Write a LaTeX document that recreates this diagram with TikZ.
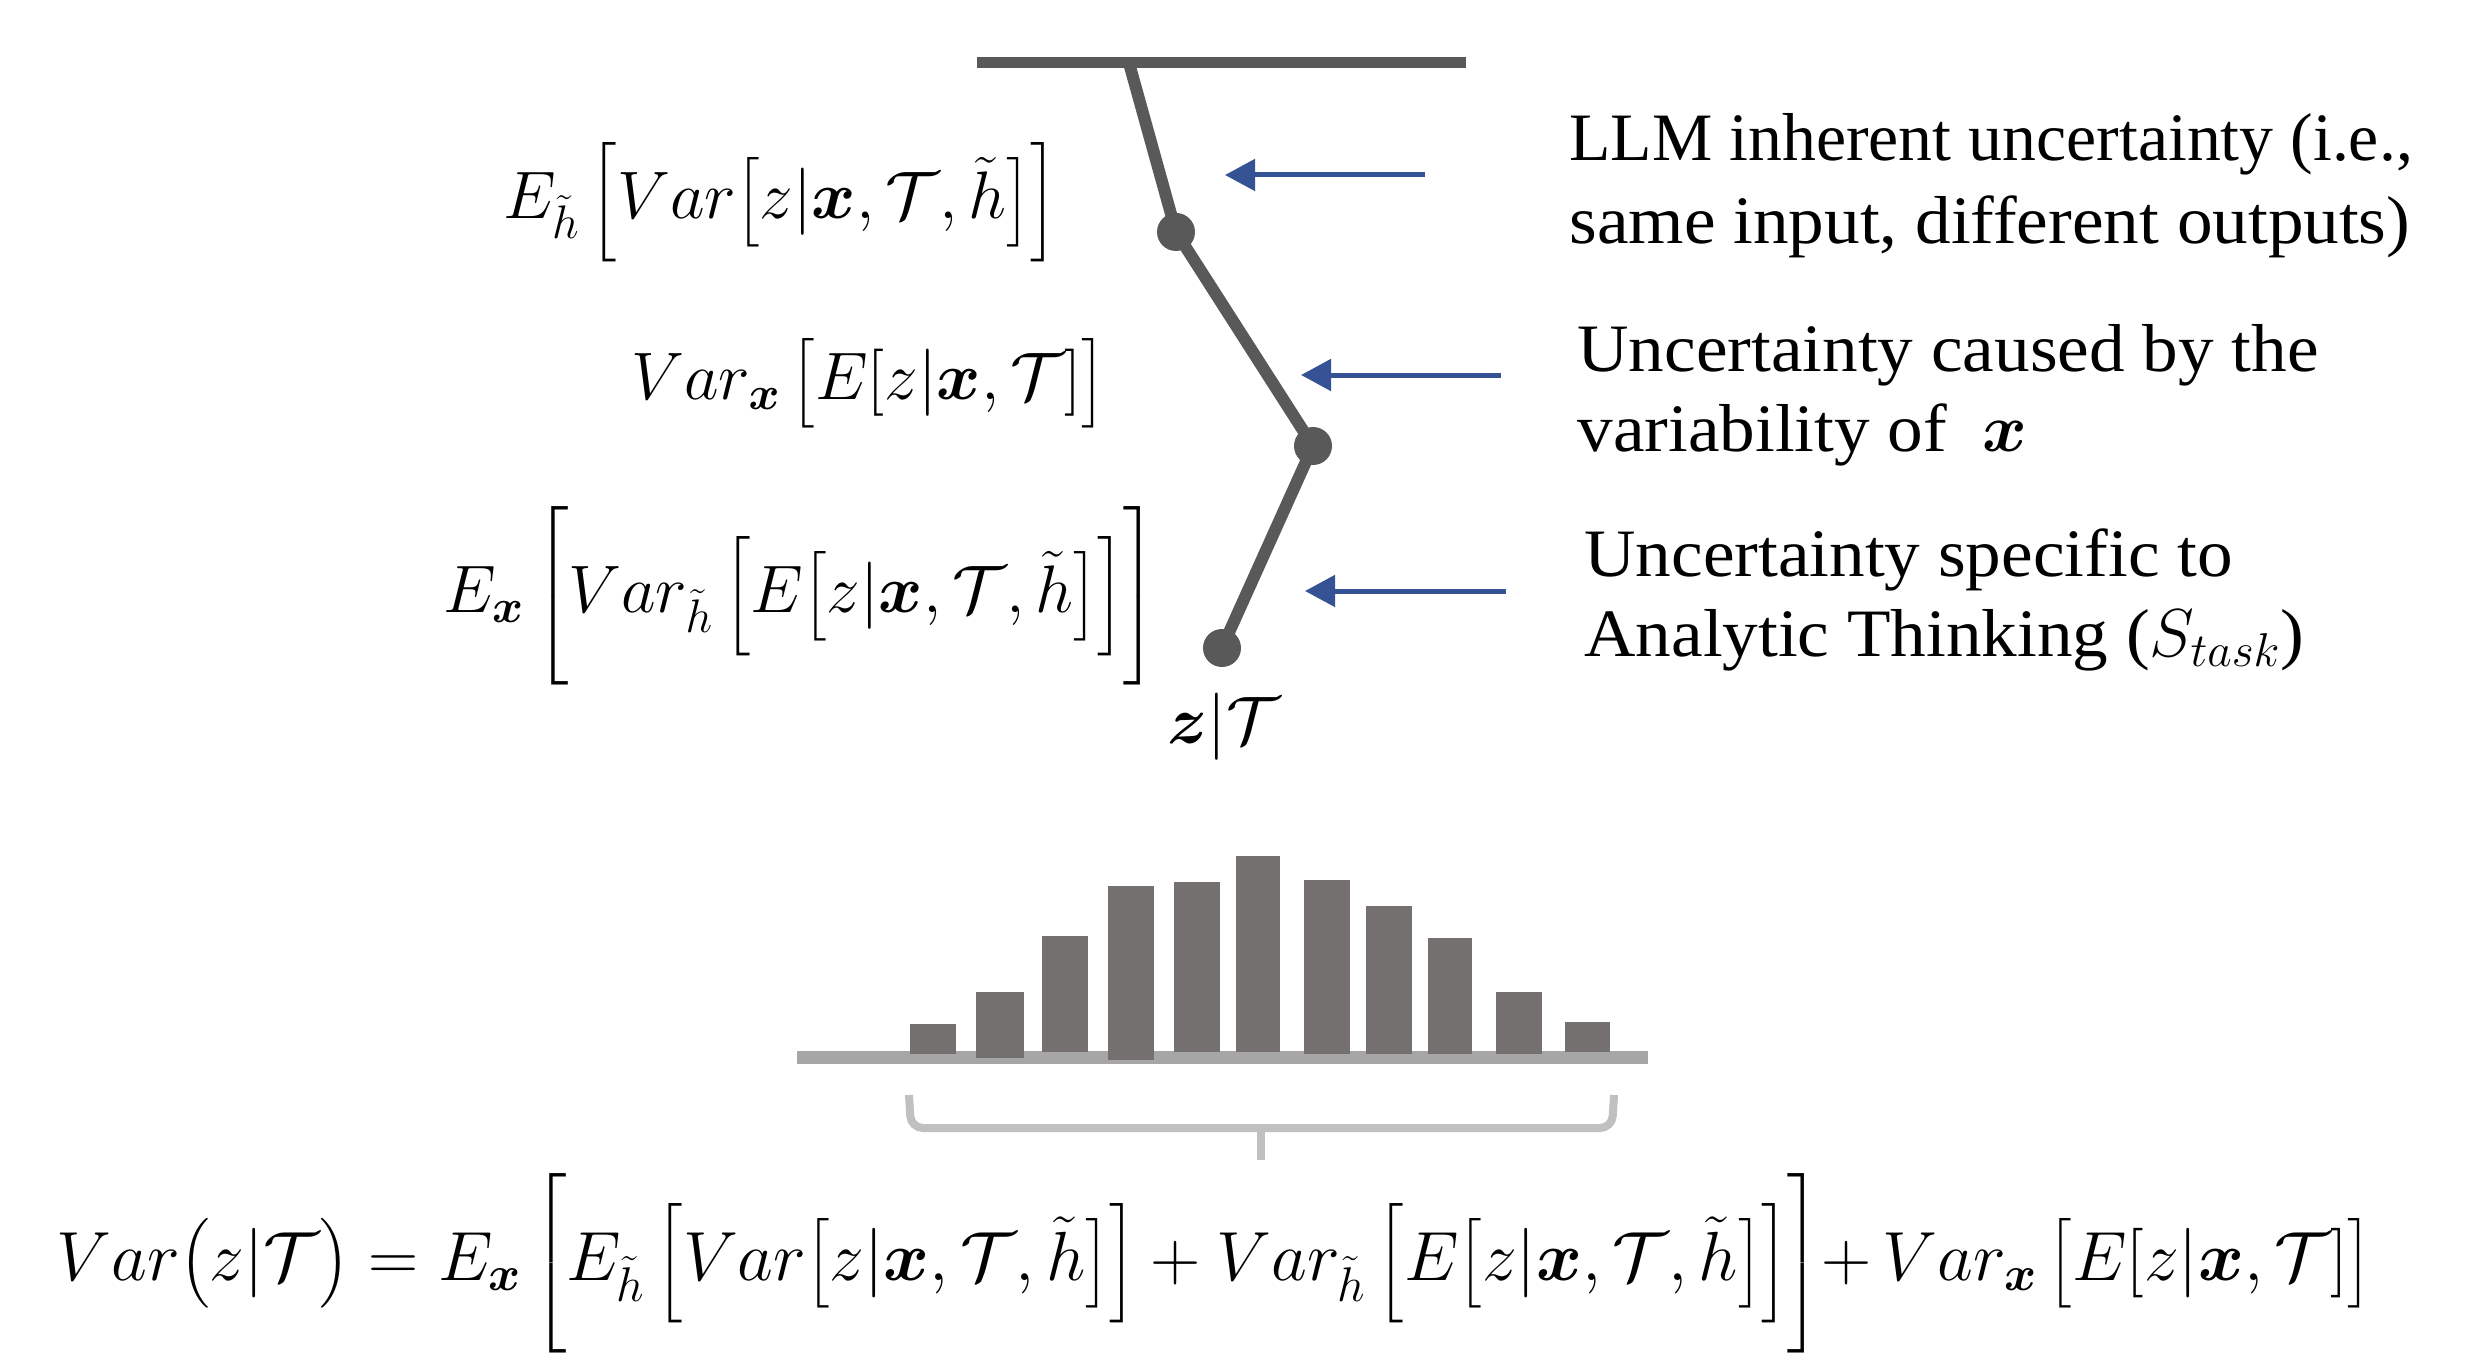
\RequirePackage{fix-cm}
\documentclass[tikz,border=0pt]{standalone}
\usepackage{amsmath}
\usepackage{fontspec}
\newfontfamily\timesfont{Liberation Serif}
\newfontfamily\timeswide[FakeStretch=1.05]{Liberation Serif}
\usetikzlibrary{arrows.meta}
\definecolor{linegray}{HTML}{595959}
\definecolor{arrowblue}{HTML}{355394}
\definecolor{bargray}{HTML}{757070}
\definecolor{basegray}{HTML}{A6A6A6}
\definecolor{bracegray}{HTML}{C0C0C0}
\newcommand{\mathsz}{\fontsize{33.6pt}{40pt}\selectfont}
\newcommand{\eqsz}{\fontsize{34.8pt}{42pt}\selectfont}
\newcommand{\bx}{\boldsymbol{x}}
\newcommand{\cT}{\mathcal{T}}
\newcommand{\tlh}{\tilde{h}}
\tikzset{
  mlabel/.style={inner sep=0pt, font=\mathsz},
  desc/.style={inner sep=0pt, align=left, font=\timesfont\fontsize{33.9pt}{41pt}\selectfont},
  descwide/.style={desc, font=\timeswide\fontsize{33.9pt}{40pt}\selectfont},
  jointdot/.style={circle, fill=linegray, minimum size=19pt, inner sep=0pt},
  link/.style={draw=linegray, line width=6pt, line join=round},
  topbar/.style={draw=linegray, line width=5.5pt},
  pointer/.style={draw=arrowblue, line width=2.5pt, -{Triangle[length=15pt, width=15.5pt]}},
  bar/.style={fill=bargray},
  brace/.style={draw=bracegray, line width=4pt, rounded corners=6pt}
}
\begin{document}
\begin{tikzpicture}[x=0.5pt, y=-0.5pt]
\useasboundingbox[fill=white] (0,0) rectangle (2472,1364);
% top bar and hinge line
\coordinate (barL) at (977,63);
\coordinate (barR) at (1466,63);
\coordinate (hinge) at (1129,63);
\draw[topbar] (barL) -- (barR);
\node[jointdot] (d1) at (1176,232) {};
\node[jointdot] (d2) at (1313,446) {};
\node[jointdot] (d3) at (1222,648) {};
\draw[link] (hinge) -- (d1.center) -- (d2.center) -- (d3.center);
\node[mlabel] (zT) at (1224,727) {$\boldsymbol{z}|\cT$};
% left labels
\node[mlabel] (m1) at (780,202) {$E_{\tlh}\,\Big[Var\big[z|\bx,\cT,\tlh\big]\Big]$};
\node[mlabel] (m2) at (868,383) {$Var_{\bx}\,\big[E[z|\bx,\cT]\big]$};
\node[mlabel] (m3) at (800,596) {$E_{\bx}\,\bigg[Var_{\tlh}\,\Big[E\big[z|\bx,\cT,\tlh\big]\Big]\bigg]$};
% arrows
\coordinate (a1s) at (1425,175); \coordinate (a1e) at (1225,175);
\coordinate (a2s) at (1501,375); \coordinate (a2e) at (1301,375);
\coordinate (a3s) at (1506,591); \coordinate (a3e) at (1305,591);
\draw[pointer] (a1s) -- (a1e);
\draw[pointer] (a2s) -- (a2e);
\draw[pointer] (a3s) -- (a3e);
% right descriptions
\node[desc, anchor=base west] (t1) at (1569,243) {LLM inherent uncertainty (i.e.,\\{\timeswide same input, different outputs)}};
\node[descwide, anchor=base west] (t2) at (1577,451) {Uncertainty caused by the\\variability of \ $\bx$};
\node[descwide, anchor=base west] (t3) at (1584,656) {Uncertainty specific to\\Analytic Thinking ($S_{task}$)};
% histogram
\fill[basegray] (797,1051) rectangle (1648,1064);
\foreach \xa/\xb/\yt/\yb in {910/956/1024/1054, 976/1024/992/1058, 1042/1088/936/1052, 1108/1154/886/1060, 1174/1220/882/1052, 1236/1280/856/1052, 1304/1350/880/1054, 1366/1412/906/1054, 1428/1472/938/1054, 1496/1542/992/1054, 1565/1610/1022/1052}
  \fill[bar] (\xa,\yt) rectangle (\xb,\yb);
% brace
\draw[brace] (909,1095) -- (911,1128) -- (1612,1128) -- (1614,1095);
\draw[draw=bracegray, line width=4pt] (1261,1128) -- (1261,1160);
% bottom equation
\node[mlabel, font=\eqsz] (eq) at (1214,1263) {$Var\big(z|\cT\big) = E_{\bx}\,\bigg[E_{\tlh}\,\Big[Var\big[z|\bx,\cT,\tlh\big]\Big] + Var_{\tlh}\,\Big[E\big[z|\bx,\cT,\tlh\big]\Big]\bigg]{+}\,Var_{\bx}\,\big[E[z|\bx,\cT]\big]$};
\end{tikzpicture}
\end{document}
